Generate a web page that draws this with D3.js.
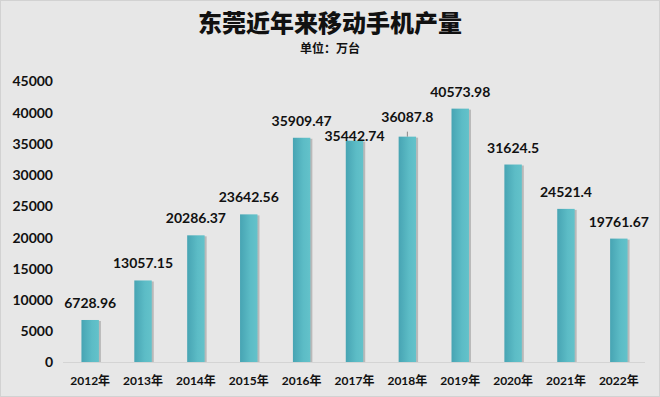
<!DOCTYPE html>
<html>
<head>
<meta charset="utf-8">
<script src="https://cdn.jsdelivr.net/npm/d3@7"></script>
<style>
  html, body { margin: 0; padding: 0; background: #e7e7e7; }
  #chart { width: 660px; height: 397px; }
  text { font-family: Lato, "Noto Sans CJK SC", sans-serif; font-weight: bold; fill: #111; }
</style>
</head>
<body>
<div id="chart"></div>
<script>
const years = ["2012年", "2013年", "2014年", "2015年", "2016年", "2017年", "2018年", "2019年", "2020年", "2021年", "2022年"];
const output = [6728.96, 13057.15, 20286.37, 23642.56, 35909.47, 35442.74, 36087.8, 40573.98, 31624.5, 24521.4, 19761.67];
const yTicks = [0, 5000, 10000, 15000, 20000, 25000, 30000, 35000, 40000, 45000];

const w = 660;
const h = 397;

const svg = d3.select("#chart")
              .append("svg")
              .attr("width", w)
              .attr("height", h);

const defs = svg.append("defs");
const grad = defs.append("linearGradient").attr("id", "barFill").attr("x1", "0%").attr("x2", "100%");
grad.append("stop").attr("offset", "0%").attr("stop-color", "#47a4b3");
grad.append("stop").attr("offset", "60%").attr("stop-color", "#5cbcc6");
grad.append("stop").attr("offset", "100%").attr("stop-color", "#63c2ca");

svg.append("rect")
   .attr("x", 0.5).attr("y", 0.5)
   .attr("width", w - 1).attr("height", h - 1)
   .attr("fill", "#e7e7e7")
   .attr("stroke", "#d2d2d2");

const xScale = d3.scaleBand()
                 .domain(years)
                 .range([64, 645])
                 .paddingInner(0.67)
                 .paddingOuter(0.33);

const yScale = d3.scaleLinear()
                 .domain([0, 45000])
                 .range([362, 81]);

const yAxis = d3.axisLeft(yScale).tickValues(yTicks).tickFormat(d3.format("d")).tickSize(0).tickPadding(0);
const gy = svg.append("g")
              .attr("transform", "translate(53, 0)")
              .call(yAxis);
gy.select(".domain").remove();
gy.selectAll("text").style("font-size", "14px").attr("dy", "0.35em");

svg.append("line")
   .attr("x1", 63).attr("x2", 645)
   .attr("y1", yScale(0) + 0.5).attr("y2", yScale(0) + 0.5)
   .attr("stroke", "#d4d4d4");

const xAxis = d3.axisBottom(xScale).tickSize(0).tickPadding(0);
const gx = svg.append("g")
              .attr("transform", "translate(0, 376)")
              .call(xAxis);
gx.select(".domain").remove();
gx.selectAll("text").style("font-size", "12px").attr("dy", "0.71em");

// shadows
svg.selectAll(".shadow")
   .data(output)
   .enter()
   .append("rect")
   .attr("class", "shadow")
   .attr("x", (d, i) => xScale(years[i]) + 2)
   .attr("y", (d) => yScale(d) + 1)
   .attr("width", xScale.bandwidth())
   .attr("height", (d) => yScale(0) - yScale(d) - 1)
   .attr("fill", "#a5a5a5")
   .attr("opacity", 0.7);

svg.selectAll(".bar")
   .data(output)
   .enter()
   .append("rect")
   .attr("class", "bar")
   .attr("x", (d, i) => xScale(years[i]))
   .attr("y", (d) => yScale(d))
   .attr("width", xScale.bandwidth())
   .attr("height", (d) => yScale(0) - yScale(d))
   .attr("fill", "url(#barFill)");

const labelGap = (i) => i === 5 ? 0 : (i === 6 ? 15 : 12);

svg.append("line")
   .attr("x1", xScale(years[6]) + xScale.bandwidth() / 2)
   .attr("x2", xScale(years[6]) + xScale.bandwidth() / 2)
   .attr("y1", yScale(output[6]) - 5)
   .attr("y2", yScale(output[6]))
   .attr("stroke", "#888");

svg.selectAll(".val")
   .data(output)
   .enter()
   .append("text")
   .attr("class", "val")
   .attr("x", (d, i) => xScale(years[i]) + xScale.bandwidth() / 2)
   .attr("y", (d, i) => yScale(d) - labelGap(i))
   .attr("text-anchor", "middle")
   .style("font-size", "14px")
   .text((d) => d);

svg.append("text")
   .attr("x", w / 2).attr("y", 32)
   .attr("text-anchor", "middle")
   .style("font-family", "'Noto Sans CJK SC', sans-serif")
   .style("font-size", "24px")
   .style("font-weight", "900")
   .text("东莞近年来移动手机产量");

svg.append("text")
   .attr("x", w / 2).attr("y", 53)
   .attr("text-anchor", "middle")
   .style("font-family", "'Noto Sans CJK SC', sans-serif")
   .style("font-size", "12px")
   .text("单位：万台");
</script>
</body>
</html>
